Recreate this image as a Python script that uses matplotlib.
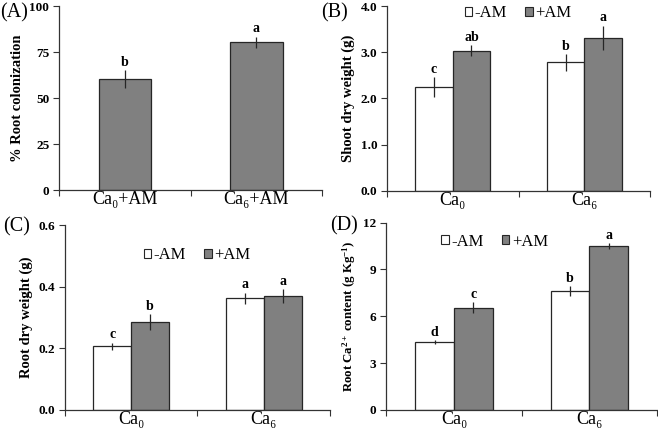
import numpy as np
import matplotlib
matplotlib.use('Agg')
import matplotlib.pyplot as plt
from matplotlib.patches import Patch

plt.rcParams['font.family'] = ['Liberation Serif', 'DejaVu Serif']
plt.rcParams['mathtext.fontset'] = 'custom'
plt.rcParams['mathtext.rm'] = 'Liberation Serif'
plt.rcParams['mathtext.it'] = 'Liberation Serif:italic'
plt.rcParams['mathtext.bf'] = 'Liberation Serif:bold'

# ---------------- data ----------------
groups = ['Ca\u2080', 'Ca\u2086']
groups_a = ['Ca\u2080+AM', 'Ca\u2086+AM']

colonization = [60.3, 80.3]
colonization_err = [4.7, 3.0]
colonization_let = ['b', 'a']

shoot_minus = [2.25, 2.78]
shoot_minus_err = [0.21, 0.18]
shoot_plus = [3.03, 3.31]
shoot_plus_err = [0.12, 0.26]
shoot_let_minus = ['c', 'b']
shoot_let_plus = ['ab', 'a']

root_minus = [0.206, 0.362]
root_minus_err = [0.012, 0.018]
root_plus = [0.286, 0.370]
root_plus_err = [0.025, 0.022]
root_let_minus = ['c', 'a']
root_let_plus = ['b', 'a']

ca_minus = [4.35, 7.62]
ca_minus_err = [0.12, 0.32]
ca_plus = [6.56, 10.5]
ca_plus_err = [0.35, 0.18]
ca_let_minus = ['d', 'b']
ca_let_plus = ['c', 'a']

GRAY = '#808080'
EDGE = '#262626'

fig = plt.figure(figsize=(6.58, 4.29), dpi=100)


def style_axes(ax, labels, ylim, yticks, yfmt, ylabel, ylsize=10.5):
    ax.set_xlim(-0.5, 1.5)
    ax.set_ylim(*ylim)
    for s in ['top', 'right']:
        ax.spines[s].set_visible(False)
    for s in ['left', 'bottom']:
        ax.spines[s].set_color('#333333')
        ax.spines[s].set_linewidth(0.9)
    ax.set_xticks([-0.5, 0.5, 1.5])
    ax.set_xticklabels([])
    ax.set_xticks([0, 1], minor=True)
    ax.set_xticklabels(labels, minor=True, fontsize=13)
    ax.tick_params(axis='x', which='major', direction='out', length=4, color='#333333')
    ax.tick_params(axis='x', which='minor', length=0, pad=1)
    ax.set_yticks(yticks)
    ax.set_yticklabels([yfmt.format(v) for v in yticks], fontsize=9.5, fontweight='bold')
    ax.tick_params(axis='y', direction='out', length=4, color='#333333', pad=3)
    ax.set_ylabel(ylabel, fontsize=ylsize, fontweight='bold', labelpad=4)


def letters(ax, xs, tops, errs, labs):
    for x, t, e, l in zip(xs, tops, errs, labs):
        ax.annotate(l, (x, t + e), xytext=(0, 1.0), textcoords='offset points',
                    ha='center', va='bottom', fontsize=10, fontweight='bold')


def grouped(ax, minus, minus_err, plus, plus_err, lm, lp):
    x = np.arange(2)
    w = 0.285
    ax.bar(x - w / 2, minus, w, color='white', edgecolor=EDGE, linewidth=0.9)
    ax.bar(x + w / 2, plus, w, color=GRAY, edgecolor=EDGE, linewidth=0.9)
    ax.errorbar(x - w / 2, minus, yerr=minus_err, fmt='none', ecolor=EDGE, elinewidth=0.9, capsize=0)
    ax.errorbar(x + w / 2, plus, yerr=plus_err, fmt='none', ecolor=EDGE, elinewidth=0.9, capsize=0)
    letters(ax, x - w / 2, minus, minus_err, lm)
    letters(ax, x + w / 2, plus, plus_err, lp)


def legend(ax, cx, cy):
    h = [Patch(facecolor='white', edgecolor=EDGE, linewidth=0.8),
         Patch(facecolor=GRAY, edgecolor=EDGE, linewidth=0.8)]
    ax.legend(h, ['-AM', '+AM'], loc='center', bbox_to_anchor=(cx, cy), ncol=2,
              frameon=False, fontsize=12, handlelength=0.45, handleheight=0.45,
              handletextpad=0.15, columnspacing=1.1, borderpad=0)


# (A)
axA = fig.add_axes([0.0897, 0.557, 0.400, 0.429])
x = np.arange(2)
axA.bar(x, colonization, 0.4, color=GRAY, edgecolor=EDGE, linewidth=0.9)
axA.errorbar(x, colonization, yerr=colonization_err, fmt='none', ecolor=EDGE, elinewidth=0.9, capsize=0)
letters(axA, x, colonization, colonization_err, colonization_let)
style_axes(axA, groups_a, (0, 100), [0, 25, 50, 75, 100], '{:d}', '% Root colonization')

# (B)
axB = fig.add_axes([0.588, 0.5555, 0.400, 0.4305])
grouped(axB, shoot_minus, shoot_minus_err, shoot_plus, shoot_plus_err, shoot_let_minus, shoot_let_plus)
style_axes(axB, groups, (0, 4.0), [0.0, 1.0, 2.0, 3.0, 4.0], '{:.1f}', 'Shoot dry weight (g)')
legend(axB, 0.498, 0.962)

# (C)
axC = fig.add_axes([0.0988, 0.0443, 0.4027, 0.4312])
grouped(axC, root_minus, root_minus_err, root_plus, root_plus_err, root_let_minus, root_let_plus)
style_axes(axC, groups, (0, 0.6), [0.0, 0.2, 0.4, 0.6], '{:.1f}', 'Root dry weight (g)')
legend(axC, 0.498, 0.838)

# (D)
axD = fig.add_axes([0.587, 0.0443, 0.4115, 0.4367])
grouped(axD, ca_minus, ca_minus_err, ca_plus, ca_plus_err, ca_let_minus, ca_let_plus)
style_axes(axD, groups, (0, 12), [0, 3, 6, 9, 12], '{:d}',
           r'Root Ca$^{\mathbf{2+}}$ content (g Kg$^{\mathbf{-1}}$)', ylsize=9.3)
legend(axD, 0.40, 0.898)

fig.text(0.0, 0.992, '(A)', fontsize=14.5, va='top', ha='left')
fig.text(0.488, 0.992, '(B)', fontsize=14.5, va='top', ha='left')
fig.text(0.004, 0.494, '(C)', fontsize=14.5, va='top', ha='left')
fig.text(0.502, 0.497, '(D)', fontsize=14.5, va='top', ha='left')

fig.savefig('out.png', dpi=100)
